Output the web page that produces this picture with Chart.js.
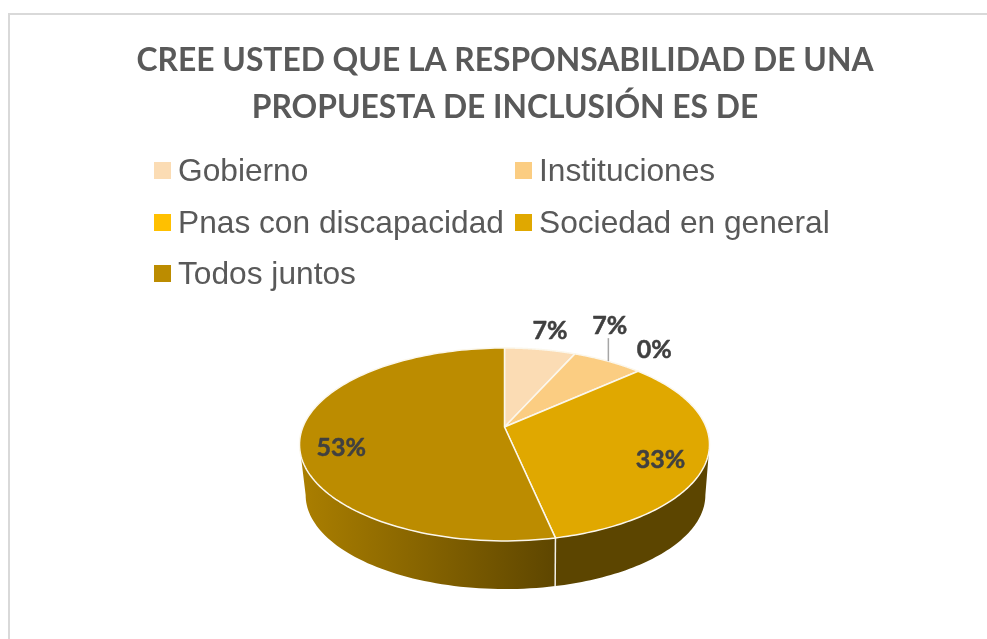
<!DOCTYPE html>
<html>
<head>
<meta charset="utf-8">
<title>Responsabilidad de inclusión</title>
<script src="https://cdn.jsdelivr.net/npm/chart.js@4"></script>
<style>
  html, body { margin: 0; height: 100%; overflow: hidden; background: #fff; }
  #frame { position: absolute; left: 8px; top: 13px; width: 1000px; height: 700px; border: 2px solid #d9d9d9; }
  #myChart { position: absolute; left: 0; top: 0; }
  #legend { position: absolute; left: 154px; top: 145px; display: grid;
    grid-template-columns: 361px 361px; grid-auto-rows: 51.5px;
    font: 31.7px "Liberation Sans", Arial, sans-serif; color: #595959; }
  .item { display: flex; align-items: center; white-space: nowrap; }
  .swatch { width: 17px; height: 17px; margin-right: 7px; flex: none; }
</style>
</head>
<body>
<div id="frame"></div>
<canvas id="myChart" width="987" height="639"></canvas>
<div id="legend"></div>
<script>
const titleLines = ['CREE USTED QUE LA RESPONSABILIDAD DE UNA', 'PROPUESTA DE INCLUSIÓN ES DE'];
const categories = ['Gobierno', 'Instituciones', 'Pnas con discapacidad', 'Sociedad en general', 'Todos juntos'];
const values = [1, 1, 0, 5, 8];
const colors = ['#FBDCB4', '#FBCD82', '#FFC000', '#E0A800', '#BC8C00'];

// px nudge of each % label from the point of the rim at the middle of its slice
const labelNudge = [[10, -19], [2, -35], [16, -21], [-47, 2], [41, 11]];

// tilted pie: perspective view of the unit circle, top face and lower rim
const view = { cx: 504.5, cy: 427, rx: 201.6, ry: 93.3, k: 0.181, drop: 51, shrink: 0.975 };

function project(a, lower) {
    const u = Math.cos(a), v = Math.sin(a);
    const w = 1 - view.k * v;
    const s = lower ? view.shrink : 1;
    return [view.cx + (lower ? 1 : 0) + s * view.rx * u / w, view.cy + (lower ? view.drop : 0) + s * view.ry * v / w];
}

function wallFill(ctx, i) {
    if (i !== 4) return '#5C4500';
    const g = ctx.createLinearGradient(300, 0, 556, 0);
    g.addColorStop(0, '#AB7F00');
    g.addColorStop(1, '#5E4600');
    return g;
}

const pie3d = {
    id: 'pie3d',
    beforeDatasetDraw(chart) {
        const ctx = chart.ctx;
        const arcs = chart.getDatasetMeta(0).data;
        const edge = Math.asin(view.k); // silhouette of the tilted disc
        ctx.save();

        // walls first, only the part that faces us
        arcs.forEach((arc, i) => {
            const from = Math.max(arc.startAngle, edge), to = Math.min(arc.endAngle, Math.PI - edge);
            if (to <= from) return;
            ctx.beginPath();
            for (let n = 0; n <= 60; n++) {
                const p = project(from + (to - from) * n / 60, false);
                n ? ctx.lineTo(p[0], p[1]) : ctx.moveTo(p[0], p[1]);
            }
            for (let n = 60; n >= 0; n--) {
                const p = project(from + (to - from) * n / 60, true);
                ctx.lineTo(p[0], p[1]);
            }
            ctx.closePath();
            ctx.fillStyle = wallFill(ctx, i);
            ctx.fill();
        });

        // seams on the wall
        ctx.strokeStyle = '#F2EFE6';
        ctx.lineWidth = 1.5;
        arcs.forEach(arc => {
            if (arc.endAngle <= arc.startAngle || Math.sin(arc.endAngle) < 0.1) return;
            const a = project(arc.endAngle, false), b = project(arc.endAngle, true);
            ctx.beginPath();
            ctx.moveTo(a[0], a[1]);
            ctx.lineTo(b[0], b[1]);
            ctx.stroke();
        });

        // top face
        ctx.lineJoin = 'round';
        arcs.forEach((arc, i) => {
            if (arc.endAngle <= arc.startAngle) return;
            ctx.beginPath();
            ctx.moveTo(view.cx, view.cy);
            for (let n = 0; n <= 120; n++) {
                const p = project(arc.startAngle + (arc.endAngle - arc.startAngle) * n / 120, false);
                ctx.lineTo(p[0], p[1]);
            }
            ctx.closePath();
            ctx.fillStyle = colors[i];
            ctx.fill();
            ctx.strokeStyle = '#FBF7EC';
            ctx.lineWidth = 1.5;
            ctx.stroke();
        });

        // percent labels
        const total = values.reduce((a, b) => a + b, 0);
        ctx.font = 'bold 25px Lato, "Open Sans", sans-serif';
        ctx.textAlign = 'center';
        ctx.textBaseline = 'middle';
        arcs.forEach((arc, i) => {
            const p = project((arc.startAngle + arc.endAngle) / 2, false);
            const x = p[0] + labelNudge[i][0], y = p[1] + labelNudge[i][1];
            if (i === 1) {
                ctx.strokeStyle = '#A6A6A6';
                ctx.lineWidth = 1.5;
                ctx.beginPath();
                ctx.moveTo(p[0] + 0.5, p[1]);
                ctx.lineTo(p[0] + 0.5, y + 12);
                ctx.stroke();
            }
            const label = Math.round(values[i] / total * 100) + '%';
            ctx.fillStyle = '#404040';
            ctx.fillText(label, x, y);
            // a little heavier, like the original bold
            ctx.strokeStyle = '#404040';
            ctx.lineWidth = 0.5;
            ctx.strokeText(label, x, y);
        });

        ctx.restore();
        return false;
    }
};

new Chart(document.getElementById('myChart'), {
    type: 'pie',
    data: {
        labels: categories,
        datasets: [{ data: values, backgroundColor: colors }]
    },
    options: {
        responsive: false,
        animation: false,
        events: [],
        layout: { padding: { left: 23 } },
        plugins: {
            legend: { display: false },
            tooltip: { enabled: false },
            title: {
                display: true,
                text: titleLines,
                color: '#595959',
                font: { family: 'Lato, "Open Sans", sans-serif', size: 31.8, weight: 'bold', lineHeight: 1.48 },
                padding: { top: 37, bottom: 10 }
            }
        }
    },
    plugins: [pie3d]
});

// legend in two columns, same order as the slices
const legendBox = document.getElementById('legend');
categories.forEach((name, i) => {
    const item = document.createElement('div');
    item.className = 'item';
    const swatch = document.createElement('span');
    swatch.className = 'swatch';
    swatch.style.background = colors[i];
    item.appendChild(swatch);
    item.appendChild(document.createTextNode(name));
    legendBox.appendChild(item);
});
</script>
</body>
</html>
